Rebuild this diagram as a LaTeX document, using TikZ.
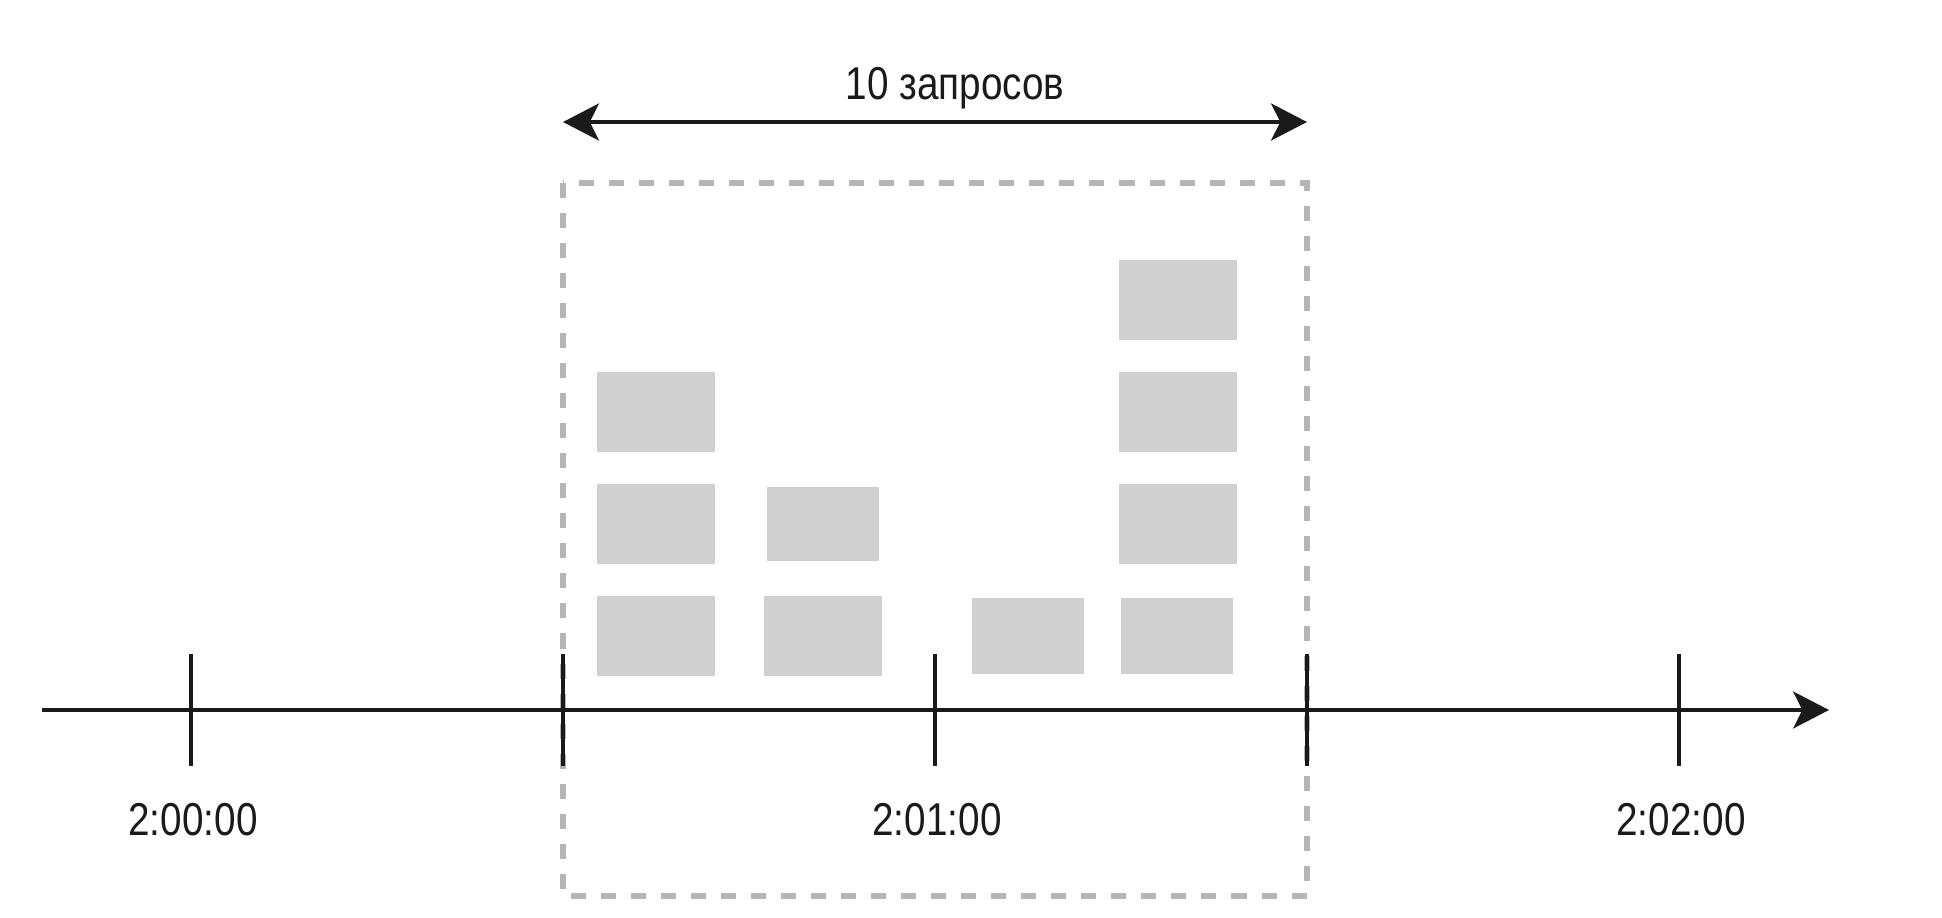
\documentclass[tikz,border=0pt]{standalone}
\usepackage{fontspec}
\setmainfont[FakeStretch=0.84]{Liberation Sans}
\usepackage{tikz}
\usetikzlibrary{arrows.meta,positioning}
\usetikzlibrary{calc}
\definecolor{reqgray}{HTML}{D0D0D0}
\definecolor{wingray}{HTML}{B5B5B5}
\definecolor{ink}{HTML}{1A1A1A}
\tikzstyle{reqbox}=[rectangle,fill=reqgray,minimum width=1.17cm,minimum height=0.8cm,inner sep=0pt]
\tikzstyle{tickmark}=[draw=ink,line width=1.3pt]
\tikzset{
  tip/.style={Stealth[length=10.2pt,width=10.5pt,inset=2.6pt]},
}

\begin{document}
\begin{tikzpicture}[x=0.01cm,y=-0.01cm,
lbl/.style={font=\fontsize{13.1}{15}\selectfont,text=ink,inner sep=0pt},
timeaxis/.style={draw=ink,line width=1.05pt,-{Stealth[length=10.2pt,width=10.5pt,inset=2.6pt]}},
spanarrow/.style={draw=ink,line width=1.15pt,{Stealth[length=10.2pt,width=10.5pt,inset=2.6pt]}-{Stealth[length=10.2pt,width=10.5pt,inset=2.6pt]}},
window/.style={draw=wingray,line width=1.65pt,dash pattern=on 4.27pt off 4.27pt},
]
\useasboundingbox (0,0) rectangle (1942,918);
\coordinate (wtl) at (563,183);
\coordinate (wbr) at (1307,896);
\draw[window] (wtl) rectangle (wbr);
\coordinate (sl) at (563,122);
\coordinate (sr) at (1307,122);
\draw[spanarrow] (sl) -- (sr);
\node[lbl,anchor=base] (cnt) at (955,100) {10 запросов};
\node[reqbox] (a1) at (656,412) {};
\node[reqbox] (a2) at (656,524) {};
\node[reqbox] (a3) at (656,636) {};
\node[reqbox,minimum width=1.11cm,minimum height=0.74cm] (b1) at (823,524) {};
\node[reqbox] (b2) at (823,636) {};
\node[reqbox,minimum width=1.11cm,minimum height=0.75cm] (c1) at (1028,636) {};
\node[reqbox] (d1) at (1178,300) {};
\node[reqbox] (d2) at (1178,412) {};
\node[reqbox] (d3) at (1178,524) {};
\node[reqbox,minimum width=1.12cm,minimum height=0.75cm] (d4) at (1177,636) {};
\coordinate (o) at (42,710);
\coordinate (e) at (1829,710);
\draw[timeaxis] (o) -- (e);
\coordinate (t0) at (191,710);
\coordinate (t1) at (563,710);
\coordinate (t2) at (935,710);
\coordinate (t3) at (1307,710);
\coordinate (t4) at (1679,710);
\draw[tickmark] (t0) ++(0,-56) -- ++(0,112);
\draw[tickmark] (t1) ++(0,-56) -- ++(0,112);
\draw[tickmark] (t2) ++(0,-56) -- ++(0,112);
\draw[tickmark] (t3) ++(0,-56) -- ++(0,112);
\draw[tickmark] (t4) ++(0,-56) -- ++(0,112);
\node[lbl,anchor=base] (l0) at (193,835) {2:00:00};
\node[lbl,anchor=base] (l1) at (937,835) {2:01:00};
\node[lbl,anchor=base] (l2) at (1681,835) {2:02:00};
\end{tikzpicture}
\end{document}
